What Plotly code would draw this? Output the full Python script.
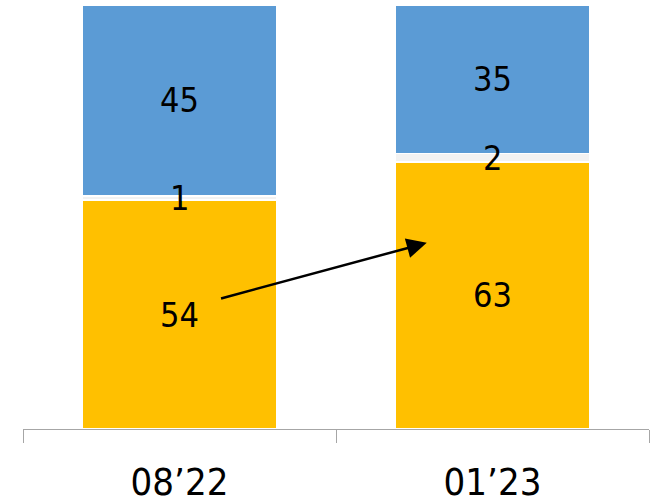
import plotly.graph_objects as go

categories = ["08\u201922", "01\u201923"]
yellow_vals = [54, 63]
gray_vals = [1, 2]
blue_vals = [45, 35]

YELLOW = "#FFC000"
GRAY = "#F2F2F2"
BLUE = "#5B9BD5"
FONT = "Liberation Sans Narrow, Arial Narrow, DejaVu Sans Condensed, sans-serif"

fig = go.Figure()
for vals, col in [(yellow_vals, YELLOW), (gray_vals, GRAY), (blue_vals, BLUE)]:
    fig.add_trace(go.Bar(x=categories, y=vals, marker=dict(color=col, line=dict(color="white", width=1.5)),
                         width=0.62, hoverinfo="skip"))

annotations = []
for i, c in enumerate(categories):
    base = 0
    for vals in (yellow_vals, gray_vals, blue_vals):
        v = vals[i]
        annotations.append(dict(x=c, y=base + v / 2, xref="x", yref="y", text=str(v), showarrow=False,
                                font=dict(family=FONT, size=34, color="black")))
        base += v

annotations.append(dict(x=0.79, y=43.9, ax=0.128, ay=30.7, xref="x", yref="y", axref="x", ayref="y",
                        text="", showarrow=True, arrowhead=2, arrowsize=1.6, arrowwidth=2.5, arrowcolor="black",
                        standoff=0, startstandoff=0))

fig.update_layout(
    barmode="stack",
    width=651, height=504,
    margin=dict(l=23, r=2, t=5, b=75),
    paper_bgcolor="white", plot_bgcolor="white",
    showlegend=False,
    annotations=annotations,
    xaxis=dict(type="category", showline=True, linecolor="#A6A6A6", linewidth=1.3,
               ticks="outside", tickson="boundaries", ticklen=13, tickcolor="#A6A6A6", tickwidth=1.3,
               ticklabelstandoff=19, automargin=False,
               tickfont=dict(family=FONT, size=38, color="black"), showgrid=False, zeroline=False),
    yaxis=dict(range=[0, 100], visible=False, showgrid=False, zeroline=False, automargin=False),
)

fig.write_html("out.html", config={"displayModeBar": False},
               post_script="document.body.style.margin='0';document.body.style.overflow='hidden';")
